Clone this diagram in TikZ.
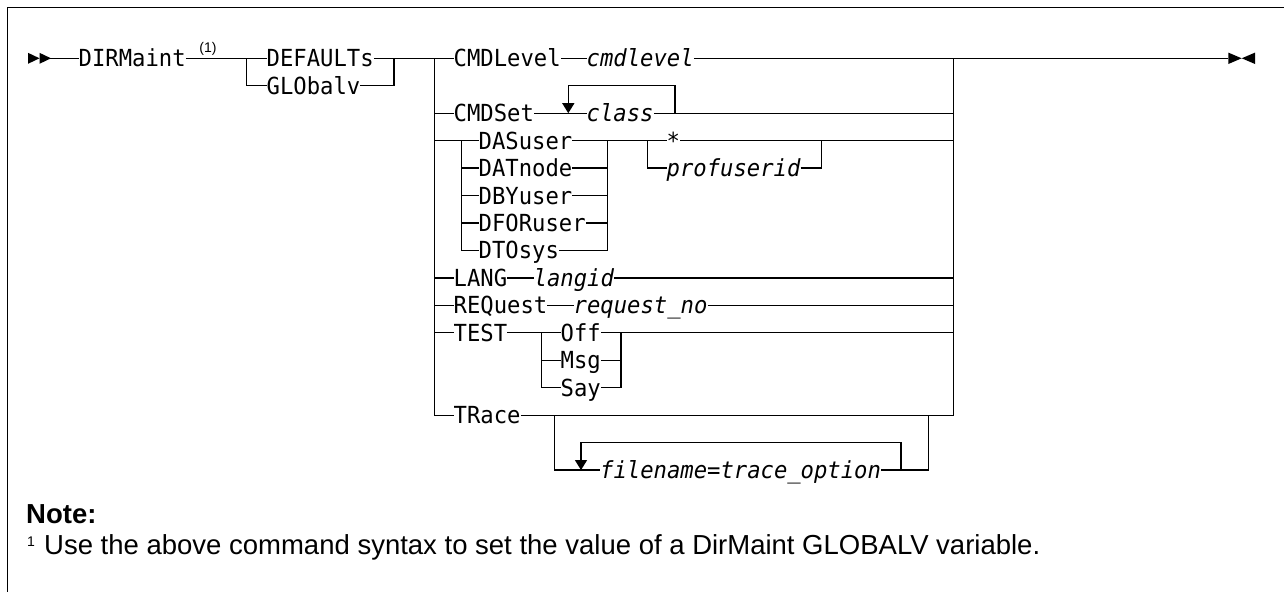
\documentclass[tikz,border=0pt]{standalone}
\usepackage{fontspec}
\setmainfont{Liberation Sans}
\newfontfamily\dmono[FakeStretch=0.945]{DejaVu Sans Mono}
\usetikzlibrary{arrows.meta}
\tikzset{
  ln/.style={line width=1.3pt, line join=miter},
  frame/.style={line width=1.5pt},
  kw/.style={font=\dmono\fontsize{23.5}{27}\selectfont, inner xsep=0pt, inner ysep=0pt, text height=17pt, text depth=0pt, anchor=west},
  var/.style={kw, font=\dmono\itshape\fontsize{23.5}{27}\selectfont},
  loopar/.style={ln, -{Triangle[length=10pt,width=12pt]}},
  notetxt/.style={font=\fontsize{27.5}{31}\selectfont, inner sep=0pt, anchor=base west},
  supnum/.style={font=\fontsize{14}{16}\selectfont, inner sep=0pt, anchor=base},
}
\begin{document}
\begin{tikzpicture}[x=1pt,y=-1pt]
\useasboundingbox (0,0) rectangle (1284,592);
% frame
\draw[frame] (1284,7.3) -- (7.3,7.3) -- (7.3,592);

% start arrows
\fill (28,52.8) -- (39.5,58.3) -- (28,63.8) -- cycle;
\fill (39.5,52.8) -- (51,58.3) -- (39.5,63.8) -- cycle;
\coordinate (s1) at (50,58.3);
\node[kw] (dirm) at (78.5,58.3) {DIRMaint};
\draw[ln] (s1) -- (dirm.west);
\node[supnum] (fn1) at (208,52) {(1)};

% DEFAULTs / GLObalv
\coordinate (dA) at (246.8,58.3);
\coordinate (dB) at (394,58.3);
\node[kw] (defaults) at (266.5,58.3) {DEFAULTs};
\node[kw] (globalv) at (266.5,85.75) {GLObalv};
\draw[ln] (dirm.east) -- (dA) -- (defaults.west);
\draw[ln] (dA) |- (globalv.west);
\draw[ln] (globalv.east) -| (dB);
\draw[ln] (defaults.east) -- (dB);

% main group bars
\coordinate (mL) at (434.3,58.3);
\coordinate (mR) at (953.3,58.3);
\coordinate (mRb) at (953.3,415.15);
\draw[ln] (dB) -- (mL);

% CMDLevel
\node[kw] (cmdlevel) at (453.5,58.3) {CMDLevel};
\node[var] (cmdlevelv) at (586.5,58.3) {cmdlevel};
\coordinate (endp) at (1228.3,58.3);
\draw[ln] (mL) -- (cmdlevel.west);
\draw[ln] (cmdlevel.east) -- (cmdlevelv.west);
\draw[ln] (cmdlevelv.east) -- (endp);
\fill (1228.3,52.6) -- (1241.7,58.3) -- (1228.3,64) -- cycle;
\fill (1255,52.6) -- (1241.7,58.3) -- (1255,64) -- cycle;

% TRace row and the two long bars
\node[kw] (trace) at (453.5,415.15) {TRace};
\draw[ln] (mL) |- (trace.west);
\draw[ln] (trace.east) -- (mRb) -- (mR);

% CMDSet
\coordinate (b2) at (434.3,113.2);
\coordinate (e2) at (953.3,113.2);
\node[kw] (cmdset) at (453.5,113.2) {CMDSet};
\node[var] (class) at (586.5,113.2) {class};
\coordinate (cL) at (568.3,113.2);
\coordinate (cLt) at (568.3,85.75);
\coordinate (cR) at (675,113.2);
\coordinate (cRt) at (675,85.75);
\draw[ln] (b2) -- (cmdset.west);
\draw[ln] (cmdset.east) -- (class.west);
\draw[ln] (class.east) -- (e2);
\draw[loopar] (cR) -- (cRt) -- (cLt) -- (cL);

% DASuser group
\coordinate (b3) at (434.3,140.65);
\coordinate (gL) at (461.7,140.65);
\coordinate (gR) at (607.7,140.65);
\node[kw] (dasuser) at (478.5,140.65) {DASuser};
\node[kw] (datnode) at (478.5,168.1) {DATnode};
\node[kw] (dbyuser) at (478.5,195.55) {DBYuser};
\node[kw] (dforuser) at (478.5,223.0) {DFORuser};
\node[kw] (dtosys) at (478.5,250.45) {DTOsys};
\draw[ln] (b3) -- (gL) -- (dasuser.west);
\draw[ln] (gL) |- (dtosys.west);
\draw[ln] (datnode.west -| gL) -- (datnode.west);
\draw[ln] (dbyuser.west -| gL) -- (dbyuser.west);
\draw[ln] (dforuser.west -| gL) -- (dforuser.west);
\draw[ln] (dasuser.east) -- (gR);
\draw[ln] (dtosys.east) -| (gR);
\draw[ln] (datnode.east) -- (datnode.east -| gR);
\draw[ln] (dbyuser.east) -- (dbyuser.east -| gR);
\draw[ln] (dforuser.east) -- (dforuser.east -| gR);

% * / profuserid
\coordinate (sL) at (647.7,140.65);
\coordinate (sR) at (821.7,140.65);
\coordinate (e3) at (953.3,140.65);
\node[kw] (star) at (666.5,140.65) {*};
\node[var] (prof) at (666.5,168.1) {profuserid};
\draw[ln] (gR) -- (sL) -- (star.west);
\draw[ln] (sL) |- (prof.west);
\draw[ln] (prof.east) -| (sR);
\draw[ln] (star.east) -- (e3);

% LANG
\coordinate (b8) at (434.3,277.9);
\coordinate (e8) at (953.3,277.9);
\node[kw] (lang) at (453.5,277.9) {LANG};
\node[var] (langid) at (533.5,277.9) {langid};
\draw[ln] (b8) -- (lang.west);
\draw[ln] (lang.east) -- (langid.west);
\draw[ln] (langid.east) -- (e8);

% REQuest
\coordinate (b9) at (434.3,305.35);
\coordinate (e9) at (953.3,305.35);
\node[kw] (req) at (453.5,305.35) {REQuest};
\node[var] (reqno) at (573.5,305.35) {request\_no};
\draw[ln] (b9) -- (req.west);
\draw[ln] (req.east) -- (reqno.west);
\draw[ln] (reqno.east) -- (e9);

% TEST
\coordinate (b10) at (434.3,332.8);
\coordinate (e10) at (953.3,332.8);
\coordinate (tL) at (541.7,332.8);
\coordinate (tR) at (621,332.8);
\node[kw] (test) at (453.5,332.8) {TEST};
\node[kw] (off) at (560.5,332.8) {Off};
\node[kw] (msg) at (560.5,360.25) {Msg};
\node[kw] (say) at (560.5,387.7) {Say};
\draw[ln] (b10) -- (test.west);
\draw[ln] (test.east) -- (tL) -- (off.west);
\draw[ln] (tL) |- (say.west);
\draw[ln] (msg.west -| tL) -- (msg.west);
\draw[ln] (off.east) -- (tR) -- (e10);
\draw[ln] (msg.east) -- (msg.east -| tR);
\draw[ln] (say.east) -| (tR);

% TRace option
\coordinate (trL) at (554.3,415.15);
\coordinate (trR) at (928.3,415.15);
\node[var] (fname) at (600,470.05) {filename=trace\_option};
\coordinate (fL) at (581,470.05);
\coordinate (fLt) at (581,442.6);
\coordinate (fR) at (901,470.05);
\coordinate (fRt) at (901,442.6);
\draw[ln] (trL) |- (fname.west);
\draw[ln] (fname.east) -| (trR);
\draw[loopar] (fR) -- (fRt) -- (fLt) -- (fL);

% note
\node[notetxt] (note) at (26,523) {\bfseries Note:};
\node[supnum, anchor=base west] (fmark) at (27,546) {1};
\node[notetxt] (notetext) at (44,554) {Use the above command syntax to set the value of a DirMaint GLOBALV variable.};
\end{tikzpicture}
\end{document}
